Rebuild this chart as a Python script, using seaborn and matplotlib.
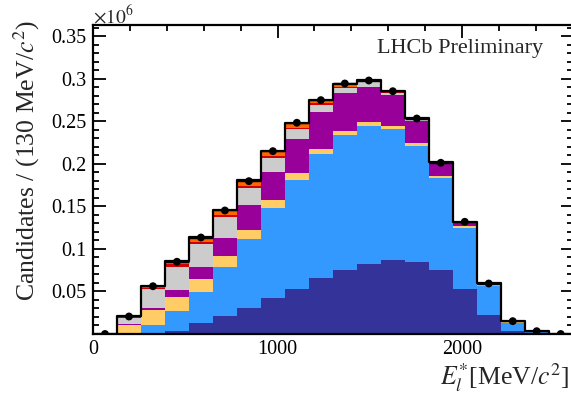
import numpy as np
import pandas as pd
import matplotlib
matplotlib.use("Agg")
import matplotlib.pyplot as plt
import seaborn as sns
from matplotlib.ticker import FixedLocator, MultipleLocator, FuncFormatter

# Binning: 20 bins of 130 MeV/c^2 from 0 to 2600
bin_edges = [int(e) for e in np.arange(0, 2601, 130)]
bin_centers = np.array(bin_edges[:-1]) + 65

# Fitted yields per bin (units of 10^6 candidates), bottom of the stack first
comp_dark_blue = [0, 0, 0, 0.0035, 0.0124, 0.0209, 0.0308, 0.0418, 0.0535, 0.0653,
                  0.0751, 0.0829, 0.0865, 0.0845, 0.0751, 0.0524, 0.0218, 0.0041, 0.0008, 0]
comp_light_blue = [0, 0.0010, 0.0104, 0.0233, 0.0368, 0.0581, 0.0815, 0.1059, 0.1282, 0.1459,
                   0.1585, 0.1615, 0.1541, 0.1361, 0.1079, 0.0721, 0.0345, 0.0094, 0.0019, 0]
comp_light_orange = [0, 0.0100, 0.0173, 0.0169, 0.0158, 0.0125, 0.0106, 0.0094, 0.0079, 0.0067,
                     0.0053, 0.0052, 0.0035, 0.0035, 0.0027, 0.0024, 0.0012, 0.0004, 0.0001, 0]
comp_purple = [0, 0.0005, 0.0032, 0.0086, 0.0141, 0.0216, 0.0286, 0.0338, 0.0398, 0.0427,
               0.0441, 0.0415, 0.0365, 0.0267, 0.0149, 0.0044, 0.0014, 0.0006, 0.0002, 0]
comp_gray = [0, 0.0070, 0.0215, 0.0271, 0.0262, 0.0242, 0.0200, 0.0156, 0.0118, 0.0088,
             0.0067, 0.0051, 0.0032, 0.0018, 0.0010, 0.0005, 0.0005, 0.0003, 0.0001, 0]
comp_red = [0, 0.0012, 0.0018, 0.0024, 0.0027, 0.0024, 0.0024, 0.0027, 0.0014, 0.0018,
            0.0012, 0.0008, 0.0009, 0.0005, 0.0003, 0.0001, 0.0002, 0.0001, 0, 0]
comp_orange = [0, 0.0015, 0.0024, 0.0039, 0.0064, 0.0067, 0.0067, 0.0061, 0.0059, 0.0041,
               0.0035, 0.0015, 0.0014, 0.0005, 0.0003, 0.0001, 0.0002, 0.0002, 0.0002, 0]
data_counts = [0, 0.0206, 0.0562, 0.0850, 0.1135, 0.1453, 0.1798, 0.2151, 0.2485, 0.2751,
               0.2947, 0.2982, 0.2856, 0.2535, 0.2014, 0.1320, 0.0594, 0.0151, 0.0033, 0]

components = {
    "dark_blue": (comp_dark_blue, "#333399"),
    "light_blue": (comp_light_blue, "#3399ff"),
    "light_orange": (comp_light_orange, "#ffcc66"),
    "purple": (comp_purple, "#990099"),
    "gray": (comp_gray, "#cccccc"),
    "red": (comp_red, "#d40000"),
    "orange": (comp_orange, "#ff6600"),
}

rows = []
for name, (vals, _) in components.items():
    for c, v in zip(bin_centers, vals):
        rows.append({"E": float(c), "component": name, "w": float(v)})
df = pd.DataFrame(rows)
palette = {name: col for name, (_, col) in components.items()}
total = np.sum([np.array(v) for v, _ in components.values()], axis=0)

sns.set_theme(style="ticks")
plt.rcParams["font.family"] = ["Liberation Serif", "DejaVu Serif"]
plt.rcParams["mathtext.fontset"] = "stix"

W, H = 571, 397
fig = plt.figure(figsize=(W / 100, H / 100), dpi=100)
x0, x1, y_top, y_bot = 93, 572.7, 25, 334
ax = fig.add_axes([x0 / W, (H - y_bot) / H, (x1 - x0) / W, (y_bot - y_top) / H])

# Stacked components
hue_order = list(components.keys())[::-1]
sns.histplot(data=df, x="E", weights="w", hue="component", hue_order=hue_order,
             palette=palette, bins=bin_edges, multiple="stack", element="bars",
             linewidth=0, alpha=1, legend=False, ax=ax)

# Total outline
tot_df = pd.DataFrame({"E": bin_centers.astype(float), "w": total})
sns.histplot(data=tot_df, x="E", weights="w", bins=bin_edges, element="step", fill=False,
             color="black", linewidth=1.6, ax=ax)

# Data points
ax.errorbar(bin_centers, data_counts, xerr=65, fmt="none", ecolor="black", elinewidth=1.0, zorder=5)
sns.scatterplot(x=bin_centers, y=data_counts, color="black", s=32, edgecolor="none", zorder=6, ax=ax)

ax.set_xlim(0, 2600)
ax.set_ylim(0, 0.3635)
ax.set_xlabel("")
ax.set_ylabel("")

ax.xaxis.set_major_locator(FixedLocator([0, 1000, 2000]))
ax.xaxis.set_minor_locator(MultipleLocator(200))
ax.yaxis.set_major_locator(FixedLocator([0.05, 0.1, 0.15, 0.2, 0.25, 0.3, 0.35]))
ax.yaxis.set_minor_locator(MultipleLocator(0.01))
ax.yaxis.set_major_formatter(FuncFormatter(lambda v, p: f"{v:g}"))
ax.xaxis.set_major_formatter(FuncFormatter(lambda v, p: f"{v:g}"))

ax.tick_params(which="both", direction="in", top=True, right=True, color="black", width=1.3,
               labelsize=14.5, labelcolor="black")
ax.tick_params(which="major", length=9)
ax.tick_params(which="minor", length=4.5)
ax.tick_params(axis="y", pad=5)
ax.tick_params(axis="x", pad=4)
for s in ax.spines.values():
    s.set_linewidth(1.6)
    s.set_color("black")

fig.text(27 / W, 1 - 20 / H, r"Candidates / (130 MeV/$c^{2}$)", rotation=90,
         ha="center", va="top", fontsize=18.5)
fig.text(569.5 / W, 12 / H, r"$E_{l}^{*}$[MeV/$c^{2}$]", ha="right", va="baseline", fontsize=18.5)
fig.text(93 / W, 1 - 23 / H, r"$\times10^{6}$", ha="left", va="baseline", fontsize=14)
fig.text(543 / W, 1 - 53.5 / H, "LHCb Preliminary", ha="right", va="baseline", fontsize=16)

fig.savefig("out.png", dpi=100)
